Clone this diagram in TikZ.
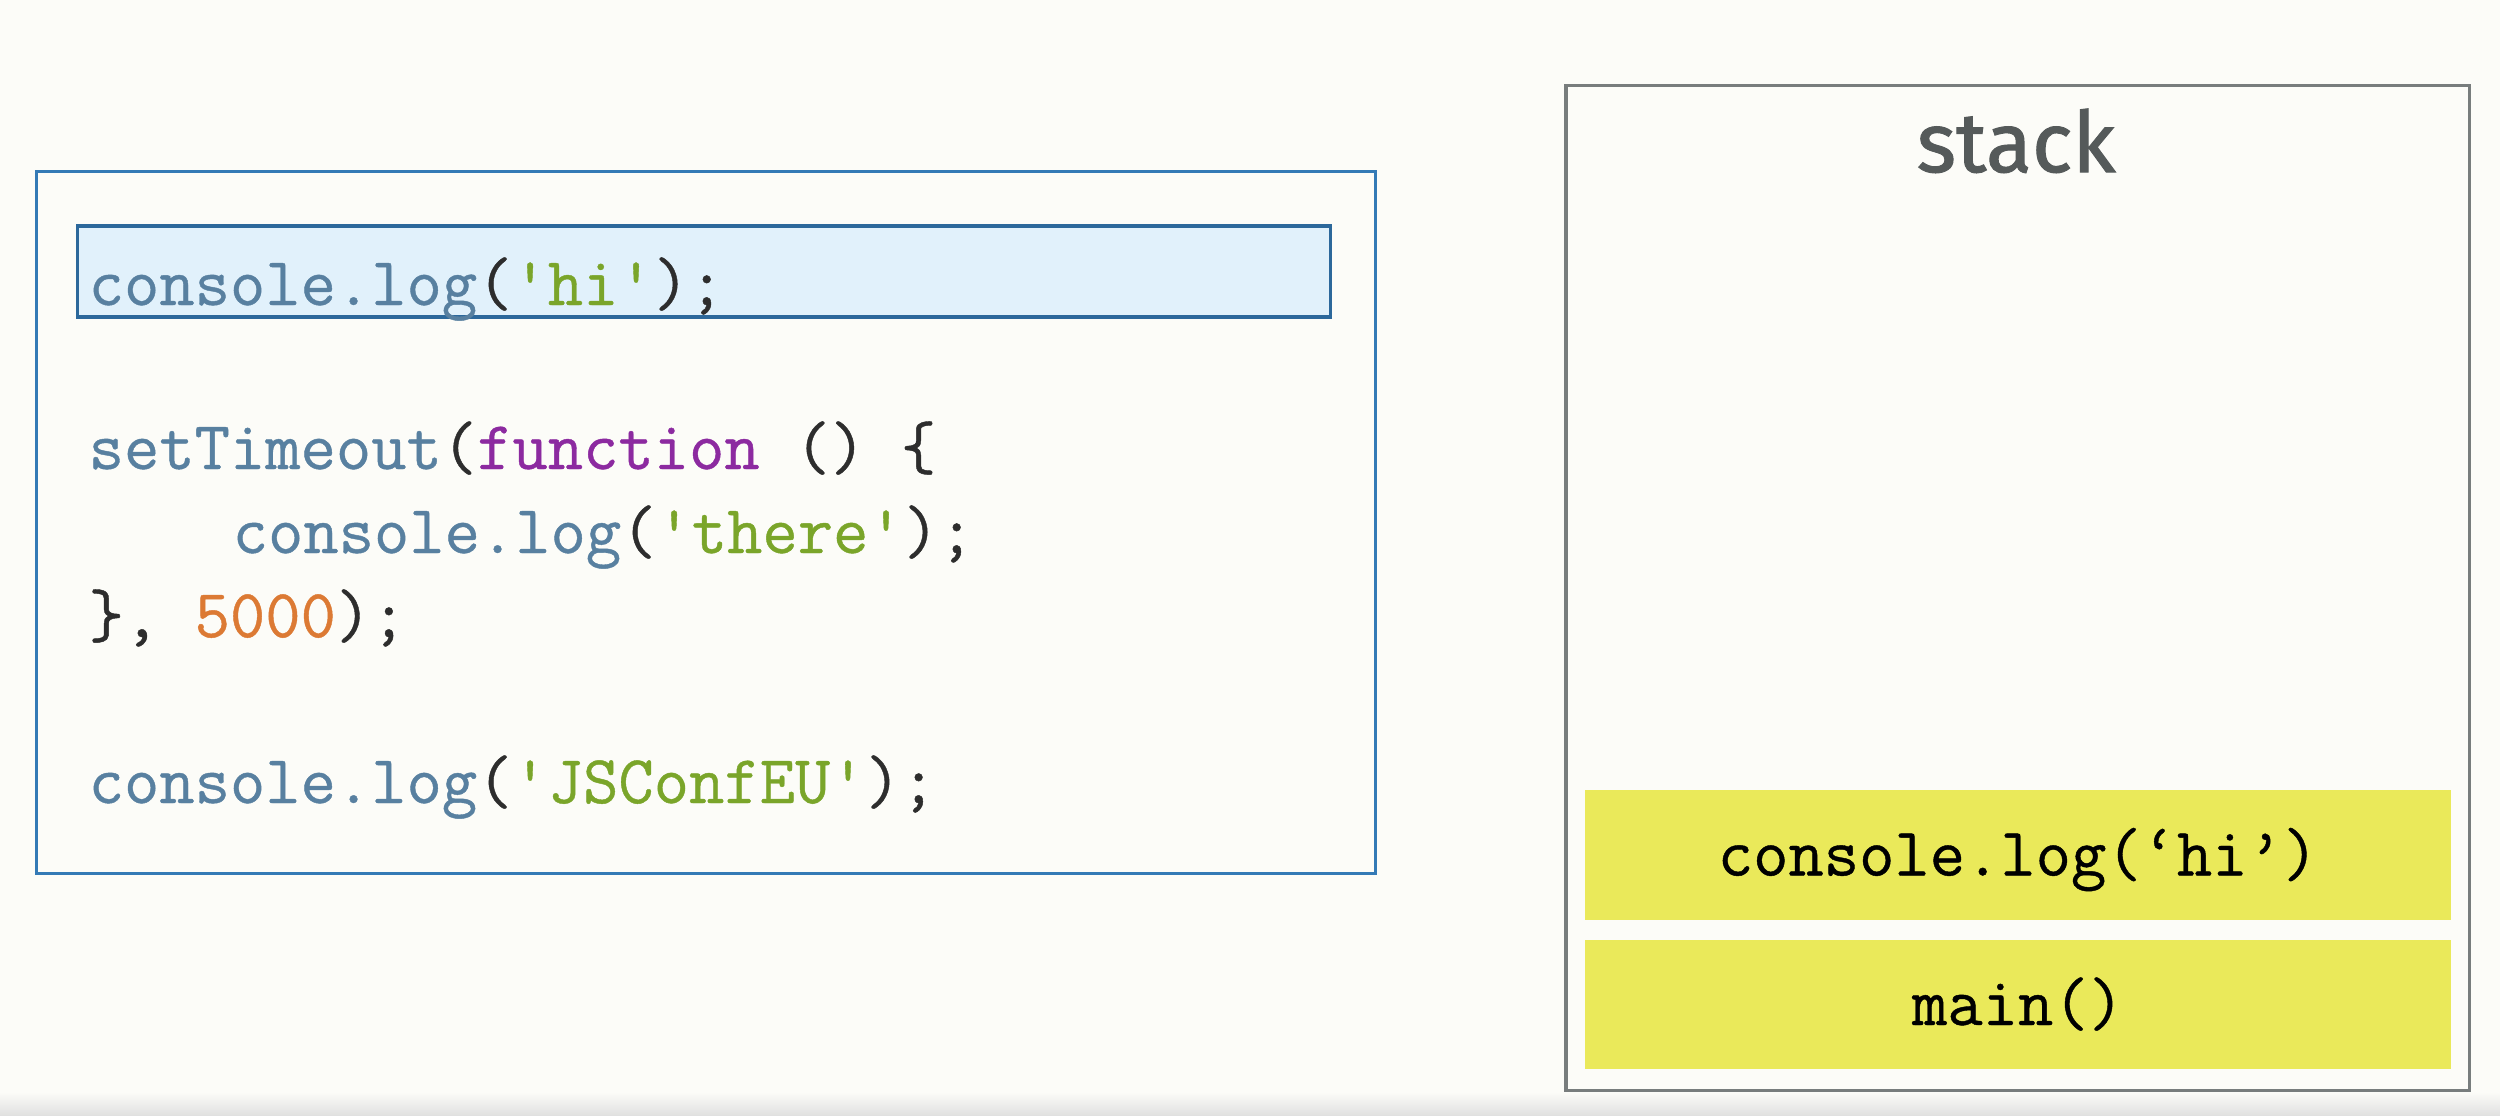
\documentclass[tikz,border=0pt]{standalone}
\usepackage{fontspec}
\usepackage{tikz}
\usetikzlibrary{positioning}
\setmonofont[FakeBold=0.6]{Latin Modern Mono}
\newfontfamily\titlefont[FakeBold=1.2]{Fira Sans}
\definecolor{slidebg}{RGB}{252,252,248}
\definecolor{codeblue}{RGB}{52,122,182}
\definecolor{hiliteblue}{RGB}{225,241,251}
\definecolor{stackgray}{RGB}{120,125,125}
\definecolor{titlegray}{RGB}{85,90,90}
\definecolor{framefill}{RGB}{234,233,90}
\definecolor{jsident}{RGB}{88,128,160}
\definecolor{jsstring}{RGB}{122,165,42}
\definecolor{jskeyword}{RGB}{140,42,160}
\definecolor{jsnumber}{RGB}{220,122,52}
\definecolor{jspunct}{RGB}{45,45,45}
\newcommand{\jsid}[1]{\textcolor{jsident}{#1}}
\newcommand{\jsstr}[1]{\textcolor{jsstring}{#1}}
\newcommand{\jskw}[1]{\textcolor{jskeyword}{#1}}
\newcommand{\jsnum}[1]{\textcolor{jsnumber}{#1}}
\newcommand{\apos}{\textquotesingle}

\begin{document}
\begin{tikzpicture}[
  x=0.01cm, y=-0.01cm,
  codebox/.style={rectangle, draw=codeblue, line width=0.9pt, minimum width=13.38cm, minimum height=7.01cm, inner sep=0pt},
  hilite/.style={rectangle, draw=codeblue!85!black, fill=hiliteblue, line width=1pt, minimum width=12.52cm, minimum height=0.91cm, inner sep=0pt},
  codeline/.style={anchor=base west, inner sep=0pt, text=jspunct, font=\fontsize{19.5}{23}\selectfont\ttfamily},
  stackbox/.style={rectangle, draw=stackgray, line width=1pt, minimum width=9.03cm, minimum height=10.04cm, inner sep=0pt},
  stacktitle/.style={anchor=base, inner sep=0pt, text=titlegray, font=\fontsize{24}{28}\selectfont\titlefont},
  frame/.style={rectangle, fill=framefill, minimum width=8.66cm, minimum height=1.29cm, inner sep=0pt, text height=0.41cm, text depth=0cm, text=black, font=\fontsize{19.5}{23}\selectfont\ttfamily}
]

% Slide background
\fill[slidebg] (0,0) rectangle (2500,1115);
\shade[top color=slidebg, bottom color=black!12] (0,1092) rectangle (2500,1115);

% Source code
\node[codebox] (code) at (706,522.5) {};
\node[hilite] (hl) at (704,271.5) {};

\node[codeline] (l1) at (88,305) {\jsid{console.log}(\jsstr{\apos hi\apos});};
\node[codeline] (l2) at (88,469) {\jsid{setTimeout}(\jskw{function} () \{};
\node[codeline] (l3) at (232,553) {\jsid{console.log}(\jsstr{\apos there\apos});};
\node[codeline] (l4) at (88,637) {\}, \jsnum{5000});};
\node[codeline] (l5) at (88,803) {\jsid{console.log}(\jsstr{\apos JSConfEU\apos});};

% Call stack
\node[stackbox] (stack) at (2017.5,588) {};
\node[stacktitle] (title) at (2016,172) {stack};

\node[frame] (main) at (2018,1004.5) {main()};
\node[frame, above=0.19cm of main] (hi) {console.log(‘hi’)};

\end{tikzpicture}
\end{document}
